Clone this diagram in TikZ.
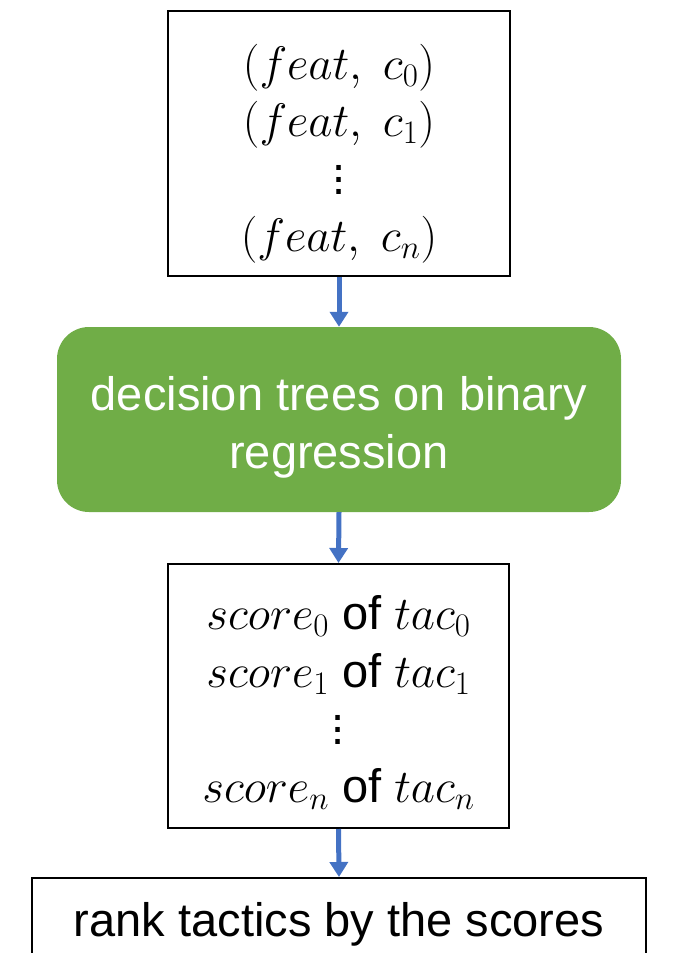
\RequirePackage{fix-cm}
\documentclass[tikz,border=0pt]{standalone}
\usepackage[no-math]{fontspec}
\setmainfont{Liberation Sans}
\usetikzlibrary{positioning, arrows.meta}
\definecolor{mygreen}{HTML}{70AD47}
\definecolor{myblue}{HTML}{4472C4}
\newcommand{\colvdots}{\vbox{\baselineskip=12pt\lineskiplimit=0pt\hbox{.}\hbox{.}\hbox{.}}}
\tikzset{
	boxnode/.style={
			draw=black,
			line width=2pt,
			fill=white,
			inner sep=0pt,
			align=center
		},
	modelnode/.style={
			fill=mygreen,
			rounded corners=32pt,
			text=white,
			inner sep=0pt,
			align=center
		},
	flowarrow/.style={
			-{Triangle[length=15pt,width=18pt]},
			draw=myblue,
			line width=5pt
		}
}
\tikzset{
	bigtext/.style={font=\fontsize{47}{58}\selectfont}
}
\tikzset{
	mathtext/.style={font=\fontsize{47}{57.5}\selectfont}
}

\begin{document}
\begin{tikzpicture}[x=1pt,y=-1pt]
        \useasboundingbox (0,0) rectangle (677,953);
        \clip (0,0) rectangle (677,953);

        \node[boxnode, mathtext, minimum width=342pt, minimum height=265pt] at (339,143.5) (feats)
            {\rule{0pt}{56pt}$(feat,\; c_0)$\\ $(feat,\; c_1)$\\ \colvdots\\ $(feat,\; c_n)$};
        \node[modelnode, bigtext, minimum width=564pt, minimum height=185pt] at (339,419.5) (model)
            {\rule{0pt}{50pt}decision trees on binary\\ regression};
        \node[boxnode, mathtext, minimum width=341pt, minimum height=264pt] at (338.5,696) (scores)
            {\rule{0pt}{47pt}$score_0$ of $tac_0$\\ $score_1$ of $tac_1$\\ \colvdots\\ $score_n$ of $tac_n$};
        \node[boxnode, bigtext, anchor=north, minimum width=614pt, inner sep=24pt] at (339,877) (rank)
            {rank tactics by the scores};

        \draw[flowarrow] (feats.south) -- (model.north);
        \draw[flowarrow] (model.south) -- (scores.north);
        \draw[flowarrow] (scores.south) -- (rank.north);
\end{tikzpicture}
\end{document}
